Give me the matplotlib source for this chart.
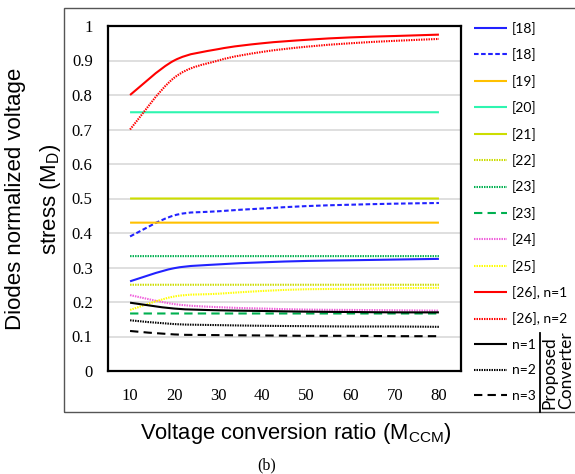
import numpy as np
import matplotlib
matplotlib.use("Agg")
import matplotlib.pyplot as plt
from matplotlib.path import Path
from matplotlib.patches import PathPatch, Rectangle
from matplotlib.lines import Line2D

# voltage conversion ratio (category axis)
m_ccm = [10, 20, 30, 40, 50, 60, 70, 80]

# normalized diode voltage stress per reference
ref18_a = [0.260, 0.298, 0.309, 0.315, 0.319, 0.321, 0.323, 0.325]
ref18_b = [0.390, 0.451, 0.463, 0.471, 0.478, 0.482, 0.485, 0.487]
ref19 = [0.43] * 8
ref20 = [0.75] * 8
ref21 = [0.5] * 8
ref22 = [0.25] * 8
ref23_a = [0.333] * 8
ref23_b = [0.1667] * 8
ref24 = [0.220, 0.194, 0.185, 0.181, 0.178, 0.177, 0.176, 0.175]
ref25 = [0.177, 0.216, 0.224, 0.232, 0.237, 0.238, 0.240, 0.241]
ref26_n1 = [0.800, 0.900, 0.933, 0.950, 0.960, 0.967, 0.971, 0.975]
ref26_n2 = [0.700, 0.850, 0.900, 0.925, 0.940, 0.950, 0.957, 0.9625]
prop_n1 = [0.198, 0.181, 0.176, 0.174, 0.172, 0.171, 0.170, 0.170]
prop_n2 = [0.147, 0.136, 0.133, 0.131, 0.130, 0.129, 0.129, 0.128]
prop_n3 = [0.116, 0.106, 0.104, 0.103, 0.102, 0.102, 0.101, 0.101]

yticks = [0, 0.1, 0.2, 0.3, 0.4, 0.5, 0.6, 0.7, 0.8, 0.9, 1]
ytick_labels = ["0", "0.1", "0.2", "0.3", "0.4", "0.5", "0.6", "0.7", "0.8", "0.9", "1"]

DOT = (0, (0.7, 0.5))
series = [
    (ref18_a, "[18]", "#2222FF", (0, ())),
    (ref18_b, "[18]", "#2222FF", (0, (2.2, 1.2))),
    (ref19, "[19]", "#FFC000", (0, ())),
    (ref20, "[20]", "#2EF5B0", (0, ())),
    (ref21, "[21]", "#CCDD00", (0, ())),
    (ref22, "[22]", "#CCDD00", DOT),
    (ref23_a, "[23]", "#00B050", DOT),
    (ref23_b, "[23]", "#00B050", (0, (4, 2.5))),
    (ref24, "[24]", "#F060DC", DOT),
    (ref25, "[25]", "#FFFF00", DOT),
    (ref26_n1, "[26], n=1", "#FF0000", (0, ())),
    (ref26_n2, "[26], n=2", "#FF0000", DOT),
    (prop_n1, "n=1", "#000000", (0, ())),
    (prop_n2, "n=2", "#000000", DOT),
    (prop_n3, "n=3", "#000000", (0, (4, 2.5))),
]


def smooth_path(xs, ys):
    # spreadsheet-style smoothed line: cubic Bezier through every point
    p = np.column_stack([xs, ys]).astype(float)
    p_ext = np.vstack([p[0], p, p[-1]])
    verts = [p[0]]
    codes = [Path.MOVETO]
    for i in range(len(p) - 1):
        p0, p1, p2, p3 = p_ext[i], p_ext[i + 1], p_ext[i + 2], p_ext[i + 3]
        verts += [p1 + (p2 - p0) / 6, p2 - (p3 - p1) / 6, p2]
        codes += [Path.CURVE4] * 3
    return Path(verts, codes)


W, H = 575, 474
fig = plt.figure(figsize=(W / 100, H / 100), dpi=100)
ax = fig.add_axes([108 / W, 1 - 371 / H, (461 - 108) / W, (371 - 26) / H])

handles = []
for ys, label, color, ls in series:
    ax.add_patch(PathPatch(smooth_path(m_ccm, ys), fill=False, edgecolor=color,
                           linewidth=1.5, linestyle=ls, capstyle="butt",
                           joinstyle="round", zorder=3))
    handles.append(Line2D([], [], color=color, linewidth=1.5, linestyle=ls,
                          label=label))

ax.set_xlim(5, 85)
ax.set_ylim(0, 1)
ax.set_xticks(m_ccm)
ax.set_xticklabels([str(v) for v in m_ccm], family="Liberation Serif", fontsize=12)
ax.set_yticks(yticks)
ax.set_yticklabels(ytick_labels, family="Liberation Serif", fontsize=12)
ax.tick_params(axis="x", length=0, pad=12)
ax.tick_params(axis="y", length=0, pad=11)
for v in yticks[1:-1]:
    ax.axhline(v, color="#D9D9D9", linewidth=1.2, zorder=1)
for s in ax.spines.values():
    s.set_linewidth(1.6)
    s.set_color("black")

fig.legend(handles=handles, loc="upper left",
           bbox_to_anchor=(474 / W, 1 - 22 / H), bbox_transform=fig.transFigure,
           frameon=False, borderpad=0, borderaxespad=0, handlelength=2.4,
           handletextpad=0.35, labelspacing=0.97,
           prop={"family": "Lato", "size": 10})

# outer chart frame
fig.patches.append(Rectangle((64 / W, 1 - 412 / H), 1, (412 - 8) / H,
                             transform=fig.transFigure, fill=False,
                             edgecolor="#555555", linewidth=1.0))

# bracket for the proposed converter entries
fig.add_artist(Line2D([540 / W, 540 / W], [1 - 412 / H, 1 - 333 / H],
                      transform=fig.transFigure, color="black", linewidth=1.3))
fig.text(549 / W, 1 - 409 / H, "Proposed", rotation=90, ha="center", va="bottom",
         family="Lato", fontsize=12.5)
fig.text(566 / W, 1 - 409 / H, "Converter", rotation=90, ha="center", va="bottom",
         family="Lato", fontsize=12.5)

fig.text(34 / W, 1 - 199 / H, "Diodes normalized voltage\nstress (M$_\\mathregular{D}$)",
         rotation=90, ha="center", va="center", family="Liberation Sans",
         fontsize=16, linespacing=1.7)
fig.text(296 / W, 1 - 439 / H, "Voltage conversion ratio (M$_\\mathregular{CCM}$)",
         ha="center", va="baseline", family="Liberation Sans", fontsize=15.8)
fig.text(267 / W, 1 - 465 / H, "(b)", ha="center", va="center",
         family="Liberation Serif", fontsize=11.5)

fig.savefig("out.png", dpi=100)
